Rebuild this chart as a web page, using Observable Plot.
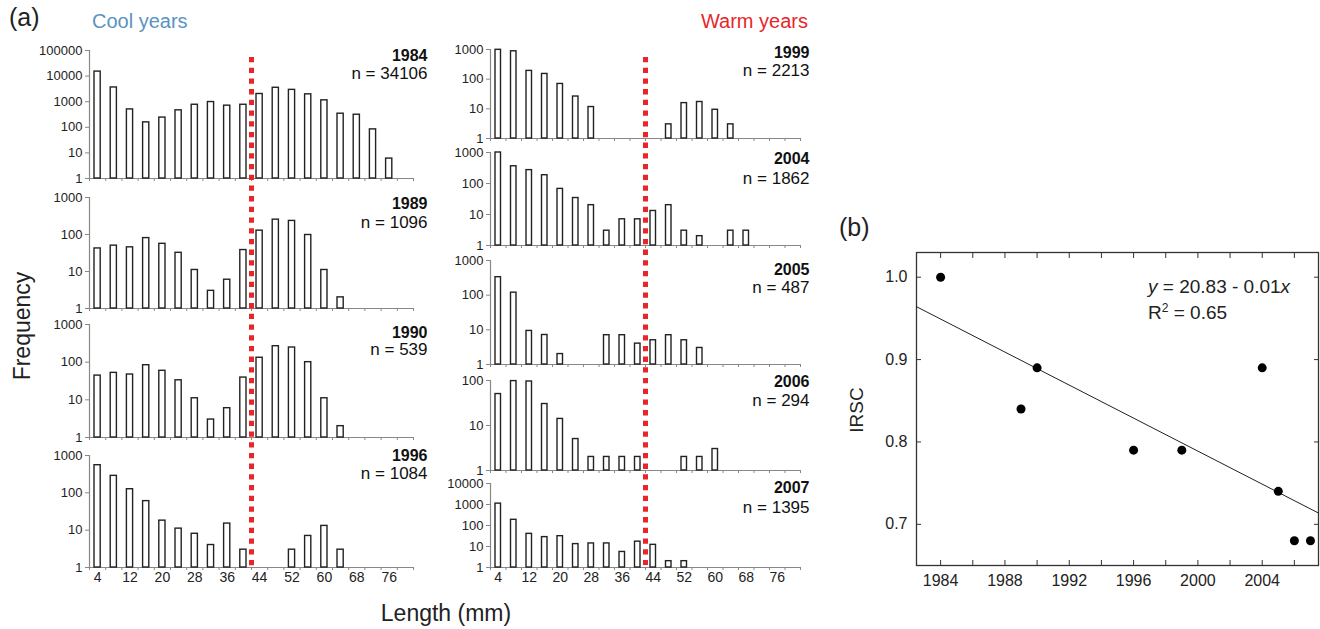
<!DOCTYPE html>
<html><head><meta charset="utf-8">
<script src="https://cdn.jsdelivr.net/npm/d3@7"></script>
<script src="https://cdn.jsdelivr.net/npm/@observablehq/plot@0.6"></script>
<style>
body{margin:0;background:#fff;font-family:"Liberation Sans",Arial,sans-serif;color:#222;}
#root{position:relative;width:1320px;height:629px;overflow:hidden;background:#fff;}
.abs{position:absolute;white-space:nowrap;}
.rot{position:absolute;white-space:nowrap;transform:translate(-50%,-50%) rotate(-90deg);}
</style></head><body><div id="root"></div>
<script>
// ---------- DATA ----------
const lengthBins = [4,8,12,16,20,24,28,32,36,40,44,48,52,56,60,64,68,72,76,80];
const lengthTickLabels = [4,12,20,28,36,44,52,60,68,76];
const splitLength = 42;

const coolYears = [1984, 1989, 1990, 1996];
const coolN = [34106, 1096, 539, 1084];
const warmYears = [1999, 2004, 2005, 2006, 2007];
const warmN = [2213, 1862, 487, 294, 1395];

const freq1984 = [15000,3600,500,156,240,460,760,970,700,760,2000,3500,2900,1940,1130,340,310,83,6,null];
const freq1989 = [42,50,45,80,56,32,11,3,6,38,127,252,233,97,11,2,null,null,null,null];
const freq1990 = [44,52,47,83,59,33,11,3,6,39,131,265,245,100,11,2,null,null,null,null];
const freq1996 = [550,285,125,60,18,11,8,4,15,3,null,null,3,7,13,3,null,null,null,null];
const freq1999 = [975,870,190,150,69,26,11.5,null,null,null,null,3,15.6,17,9.3,3,null,null,null,null];
const freq2004 = [1000,360,270,185,67,34,20,3,7,7,13,20,3,2,null,3,3,null,null,null];
const freq2005 = [330,118,9.3,7.1,2,null,null,7,7,4,5,7,5,3,null,null,null,null,null,null];
const freq2006 = [50,97,95,30,14,5,2,2,2,2,null,null,2,2,3,null,null,null,null,null];
const freq2007 = [1100,187,40,28,31,13,14,14,5.5,17,12,2,2,null,null,null,null,null,null,null];

const yMaxByYear = {1984:100000, 1989:1000, 1990:1000, 1996:1000, 1999:1000, 2004:1000, 2005:1000, 2006:100, 2007:10000};

const irscYears = [1984, 1989, 1990, 1996, 1999, 2004, 2005, 2006, 2007];
const irscValues = [1.00, 0.84, 0.89, 0.79, 0.79, 0.89, 0.74, 0.68, 0.68];
const irscXTicks = [1984, 1988, 1992, 1996, 2000, 2004];
const irscYTicks = [0.7, 0.8, 0.9, 1.0];

// ---------- LAYOUT ----------
const root = document.getElementById("root");
const FONT = "Liberation Sans, Arial, sans-serif";
const cols = {
  L: {x0: 0, width: 430, ml: 89, mr: 17, labelDx: 14},
  R: {x0: 440, width: 372, ml: 50, mr: 12, labelDx: 9}
};
const panels = [
  {year:1984, n:coolN[0], freq:freq1984, col:"L", top:50, bottom:178, dy:[5.5,23.5]},
  {year:1989, n:coolN[1], freq:freq1989, col:"L", top:197, bottom:308, dy:[6,25]},
  {year:1990, n:coolN[2], freq:freq1990, col:"L", top:324, bottom:437, dy:[8,25]},
  {year:1996, n:coolN[3], freq:freq1996, col:"L", top:455, bottom:567, dy:[0,18], xlabels:true},
  {year:1999, n:warmN[0], freq:freq1999, col:"R", top:49, bottom:138, dy:[3,21.5]},
  {year:2004, n:warmN[1], freq:freq2004, col:"R", top:152, bottom:245, dy:[6,26]},
  {year:2005, n:warmN[2], freq:freq2005, col:"R", top:260, bottom:364, dy:[9,27]},
  {year:2006, n:warmN[3], freq:freq2006, col:"R", top:380, bottom:470, dy:[1,20]},
  {year:2007, n:warmN[4], freq:freq2007, col:"R", top:483, bottom:567, dy:[4,24], xlabels:true}
];

function place(el, left, top) {
  const d = document.createElement("div");
  d.className = "abs";
  d.style.left = left + "px"; d.style.top = top + "px";
  d.appendChild(el);
  root.appendChild(d);
  return d;
}
const baseStyle = {background: "transparent", fontFamily: FONT, fontSize: "13px", color: "#222", overflow: "visible"};

for (const p of panels) {
  const c = cols[p.col];
  const mt = 12, mb = p.xlabels ? 26 : 6;
  const rows = lengthBins.map((len, i) => ({len, f: p.freq[i]})).filter(d => d.f != null);
  const decades = [];
  for (let v = 1; v <= yMaxByYear[p.year]; v *= 10) decades.push(v);
  const marks = [
    Plot.ruleY([1], {stroke: "#888", strokeWidth: 1.2}),
    Plot.ruleX([lengthBins[0] - 2], {stroke: "#888", strokeWidth: 1.2}),
    Plot.axisX({ticks: lengthBins.map(d => d - 2).concat([lengthBins[lengthBins.length-1] + 2]), tickSize: 3, tickFormat: () => "", stroke: "#888", label: null}),
    Plot.axisY({ticks: decades, tickFormat: d => String(d), tickSize: 4, tickPadding: 3, stroke: "#888", fill: "#222", fontSize: 13, label: null}),
    Plot.rectY(rows, {x1: d => d.len - 2, x2: d => d.len + 2, y1: 1, y2: "f", insetLeft: 5, insetRight: 5, fill: "white", stroke: "#222", strokeWidth: 1.4}),
    Plot.text([String(p.year)], {frameAnchor: "top-right", dx: c.labelDx, dy: p.dy[0], textAnchor: "end", lineAnchor: "middle", fontWeight: "bold", fontSize: 16, fill: "#111"}),
    Plot.text(["n = " + p.n], {frameAnchor: "top-right", dx: c.labelDx, dy: p.dy[1], textAnchor: "end", lineAnchor: "middle", fontSize: 17, fill: "#111"})
  ];
  if (p.xlabels) marks.push(Plot.axisX({ticks: lengthTickLabels, tickSize: 0, tickPadding: 5, fontSize: 14, fill: "#222", label: null}));
  const chart = Plot.plot({
    width: c.width, height: (p.bottom - p.top) + mt + mb,
    marginLeft: c.ml, marginRight: c.mr, marginTop: mt, marginBottom: mb,
    x: {domain: [lengthBins[0] - 2, lengthBins[lengthBins.length-1] + 2], axis: null, label: null},
    y: {type: "log", domain: [1, yMaxByYear[p.year]], axis: null, label: null},
    style: baseStyle,
    marks
  });
  place(chart, c.x0, p.top - mt);
}

// red dotted split lines (one per column)
for (const [key, top, bottom] of [["L", 57, 567], ["R", 57, 565]]) {
  const c = cols[key];
  const chart = Plot.plot({
    width: c.width, height: bottom - top,
    marginLeft: c.ml, marginRight: c.mr, marginTop: 0, marginBottom: 0,
    x: {domain: [lengthBins[0] - 2, lengthBins[lengthBins.length-1] + 2], axis: null},
    style: baseStyle,
    marks: [Plot.ruleX([splitLength], {stroke: "#e8262a", strokeWidth: 5, strokeDasharray: "5.3,5.4"})]
  });
  place(chart, c.x0, top);
}

// ---------- Panel (b) ----------
const xDomain = [1982.5, 2007.5];
const irsc = irscYears.map((y, i) => ({year: y, v: irscValues[i]}));
const mx = d3.mean(irscYears), my = d3.mean(irscValues);
const slope = d3.sum(irsc, d => (d.year - mx) * (d.v - my)) / d3.sum(irsc, d => (d.year - mx) ** 2);
const intercept = my - slope * mx;
const fitLine = xDomain.map(x => ({year: x, v: intercept + slope * x}));
const minorYears = [1984,1986,1988,1990,1992,1994,1996,1998,2000,2002,2004,2006];

const chartB = Plot.plot({
  width: 490, height: 405, marginLeft: 86, marginRight: 2, marginTop: 52, marginBottom: 40,
  x: {domain: xDomain, axis: null, label: null},
  y: {domain: [0.65, 1.03], axis: null, label: null},
  style: baseStyle,
  marks: [
    Plot.frame({stroke: "#333", strokeWidth: 1.3}),
    Plot.axisX({ticks: minorYears, tickSize: 5, dy: -5, tickFormat: () => "", stroke: "#333", label: null}),
    Plot.axisX({anchor: "top", ticks: minorYears, tickSize: 5, dy: 5, tickFormat: () => "", stroke: "#333", label: null}),
    Plot.axisY({ticks: irscYTicks, tickSize: 5, dx: 5, tickFormat: () => "", stroke: "#333", label: null}),
    Plot.axisY({anchor: "right", ticks: irscYTicks, tickSize: 5, dx: -5, tickFormat: () => "", stroke: "#333", label: null}),
    Plot.axisX({ticks: irscXTicks, tickSize: 0, tickPadding: 9, tickFormat: d3.format("d"), fontSize: 16, fill: "#222", label: null}),
    Plot.axisY({ticks: irscYTicks, tickSize: 0, tickPadding: 9, tickFormat: d3.format(".1f"), fontSize: 16, fill: "#222", label: null}),
    Plot.line(fitLine, {x: "year", y: "v", stroke: "#222", strokeWidth: 1}),
    Plot.dot(irsc, {x: "year", y: "v", r: 4.5, fill: "#000"})
  ]
});
place(chartB, 830, 200);

// ---------- Text ----------
function addText(html, left, top, css) {
  const d = document.createElement("div");
  d.className = "abs";
  d.style.left = left + "px"; d.style.top = top + "px";
  Object.assign(d.style, css || {});
  d.innerHTML = html;
  root.appendChild(d);
  return d;
}
addText("(a)", 9, 2, {fontSize: "25px", lineHeight: "30px"});
addText("Cool years", 92, 8, {fontSize: "20px", lineHeight: "26px", color: "#5a93bf"});
addText("Warm years", 808, 8, {fontSize: "20px", lineHeight: "26px", color: "#e8262a", transform: "translateX(-100%)"});
addText("(b)", 839, 212, {fontSize: "25px", lineHeight: "30px"});
addText("<i>y</i> = 20.83 - 0.01<i>x</i>", 1148, 276, {fontSize: "19px", lineHeight: "22px"});
addText("R<sup style='font-size:12px;line-height:0'>2</sup> = 0.65", 1148, 302, {fontSize: "19px", lineHeight: "22px"});
const f = addText("Frequency", 22, 326, {fontSize: "23px"}); f.className = "rot";
const ir = addText("IRSC", 857, 410, {fontSize: "19px"}); ir.className = "rot";
addText("Length (mm)", 446, 613, {fontSize: "23px", transform: "translate(-50%,-50%)"});
</script></body></html>
